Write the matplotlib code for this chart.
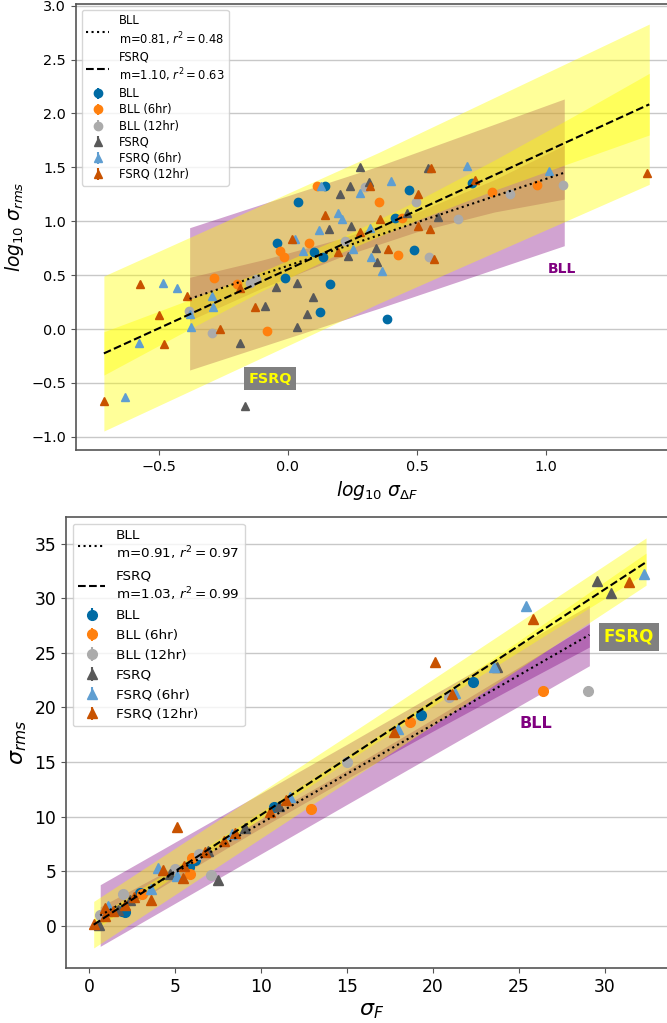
import numpy as np
import matplotlib.pyplot as plt

plt.style.use('tableau-colorblind10')

# ---------------- top panel: log10 sigma_dF vs log10 sigma_rms ----------------
top_bll_x = [0.04, 0.145, 0.468, -0.04, 0.101, 0.136, -0.01, 0.164, 0.126, 0.382, 0.416, 0.487, 0.711]
top_bll_y = [1.18, 1.33, 1.288, 0.794, 0.716, 0.67, 0.476, 0.419, 0.158, 0.096, 1.033, 0.733, 1.351]
top_bll6_x = [0.113, 0.354, 0.081, -0.032, -0.014, -0.285, -0.195, -0.08, 0.425, 0.443, 0.792, 0.963]
top_bll6_y = [1.328, 1.179, 0.798, 0.725, 0.671, 0.47, 0.422, -0.019, 0.686, 1.028, 1.274, 1.333]
top_bll12_x = [-0.381, -0.294, -0.148, -0.125, 0.222, 0.30, 0.498, 0.66, 0.545, 0.86, 1.065]
top_bll12_y = [0.17, -0.032, 0.424, 0.466, 0.82, 1.32, 1.18, 1.02, 0.671, 1.257, 1.333]
top_fsrq_x = [0.278, 0.242, 0.202, 0.315, 0.159, 0.243, 0.343, 0.344, 0.232, -0.045,
              0.036, 0.097, 0.075, -0.09, 0.036, -0.186, -0.165, 0.462, 0.541, 0.58]
top_fsrq_y = [1.50, 1.33, 1.252, 1.367, 0.926, 0.955, 0.748, 0.624, 0.677, 0.392,
              0.424, 0.30, 0.137, 0.21, 0.022, -0.133, -0.71, 1.073, 1.49, 1.042]
top_fsrq6_x = [0.129, 0.28, 0.398, 0.193, 0.21, 0.121, 0.32, 0.057, 0.029, 0.253, 0.322,
               0.363, 0.692, 1.012, -0.485, -0.43, -0.577, -0.629, -0.377, -0.376, -0.292, -0.289]
top_fsrq6_y = [1.328, 1.258, 1.375, 1.076, 1.02, 0.918, 0.934, 0.728, 0.832, 0.74, 0.665,
               0.541, 1.511, 1.469, 0.423, 0.378, -0.127, -0.628, 0.139, 0.016, 0.309, 0.201]
top_fsrq12_x = [0.015, 0.145, 0.195, 0.279, 0.32, 0.355, 0.386, 0.502, 0.505, 0.551, 0.564,
                0.556, 0.725, 1.39, -0.572, -0.497, -0.48, -0.712, -0.391, -0.262, -0.186, -0.126]
top_fsrq12_y = [0.832, 1.058, 0.714, 0.897, 1.329, 1.019, 0.742, 0.959, 1.25, 0.931, 0.648,
                1.498, 1.382, 1.45, 0.419, 0.13, -0.139, -0.667, 0.306, 0.003, 0.382, 0.2]

# fitted lines (end points) and shaded bands
top_bll_fit_x = [-0.38, 1.07]
top_bll_fit_y = [0.28, 1.45]
top_fsrq_fit_x = [-0.712, 1.399]
top_fsrq_fit_y = [-0.226, 2.084]
top_bll_pred_x = [-0.38, 0.35, 1.07]
top_bll_pred_lo = [-0.38, 0.19, 0.773]
top_bll_pred_hi = [0.94, 1.51, 2.134]
top_bll_conf_x = [-0.38, -0.1, 0.2, 0.5, 0.8, 1.07]
top_bll_conf_lo = [0.08, 0.38, 0.665, 0.903, 1.086, 1.205]
top_bll_conf_hi = [0.48, 0.64, 0.835, 1.083, 1.386, 1.705]
top_fsrq_pred_x = [-0.712, 0.35, 1.399]
top_fsrq_pred_lo = [-0.946, 0.236, 1.342]
top_fsrq_pred_hi = [0.492, 1.636, 2.829]
top_fsrq_conf_x = [-0.712, -0.4, -0.1, 0.2, 0.5, 0.8, 1.1, 1.399]
top_fsrq_conf_lo = [-0.427, -0.025, 0.354, 0.702, 1.01, 1.288, 1.546, 1.80]
top_fsrq_conf_hi = [-0.025, 0.255, 0.534, 0.842, 1.19, 1.568, 1.966, 2.372]
top_xticks = [-0.5, 0.0, 0.5, 1.0]

# ---------------- bottom panel: sigma_F vs sigma_rms ----------------
bot_bll_x = [1.9, 2.05, 2.95, 5.8, 6.15, 10.75, 19.3, 22.3]
bot_bll_y = [1.35, 1.25, 3.0, 5.4, 6.05, 10.85, 19.3, 22.35]
bot_bll6_x = [3.05, 5.86, 5.96, 12.9, 18.65, 26.4]
bot_bll6_y = [2.95, 4.78, 6.21, 10.7, 18.7, 21.5]
bot_bll12_x = [0.63, 1.95, 4.99, 6.35, 7.05, 15.0, 20.95, 29.0]
bot_bll12_y = [1.03, 2.95, 5.21, 6.61, 4.63, 15.0, 21.0, 21.55]
bot_fsrq_x = [0.53, 1.69, 2.37, 4.7, 6.93, 7.49, 9.03, 11.03, 23.7, 29.55, 30.35]
bot_fsrq_y = [0.12, 1.49, 2.4, 4.78, 6.86, 4.17, 8.96, 11.0, 23.75, 31.6, 30.5]
bot_fsrq6_x = [1.11, 3.6, 4.02, 5.09, 8.28, 11.7, 17.95, 21.3, 23.55, 25.4, 32.3]
bot_fsrq6_y = [1.79, 3.38, 5.3, 4.54, 8.4, 11.8, 18.05, 21.35, 23.75, 29.3, 32.25]
bot_fsrq12_x = [0.24, 0.88, 0.92, 1.37, 2.08, 2.62, 3.6, 4.31, 5.09, 5.44, 5.53, 6.74,
                7.82, 8.5, 10.5, 11.45, 17.7, 20.1, 21.1, 25.8, 31.4]
bot_fsrq12_y = [0.21, 1.64, 0.88, 1.34, 1.95, 2.65, 2.35, 5.15, 9.1, 4.39, 5.51, 6.73,
                7.82, 8.5, 10.42, 11.55, 17.8, 24.12, 21.2, 28.1, 31.5]

bot_bll_fit_x = [0.63, 29.1]
bot_bll_fit_y = [0.96, 26.65]
bot_fsrq_fit_x = [0.25, 32.4]
bot_fsrq_fit_y = [0.12, 33.3]
bot_bll_pred_x = [0.63, 14.9, 29.1]
bot_bll_pred_lo = [-1.86, 11.05, 23.82]
bot_bll_pred_hi = [3.78, 16.55, 29.36]
bot_bll_conf_x = [0.63, 5, 10, 15, 20, 25, 29.1]
bot_bll_conf_lo = [0.16, 4.34, 8.99, 13.49, 17.84, 22.09, 25.53]
bot_bll_conf_hi = [1.76, 5.44, 9.79, 14.29, 18.94, 23.69, 27.63]
bot_fsrq_pred_x = [0.25, 16.3, 32.4]
bot_fsrq_pred_lo = [-2.01, 14.55, 31.19]
bot_fsrq_pred_hi = [2.25, 18.75, 35.52]
bot_fsrq_conf_x = [0.25, 5, 10, 16, 22, 27, 32.4]
bot_fsrq_conf_lo = [-0.43, 4.61, 9.86, 16.09, 22.17, 27.07, 32.33]
bot_fsrq_conf_hi = [0.67, 5.41, 10.46, 16.59, 22.87, 28.27, 34.13]
bot_xticks = [0, 5, 10, 15, 20, 25, 30]

names = ['BLL', 'BLL (6hr)', 'BLL (12hr)', 'FSRQ', 'FSRQ (6hr)', 'FSRQ (12hr)']
markers = ['o', 'o', 'o', '^', '^', '^']


def panel(ax, pts, fits, labels, bands, ms, fs_leg, spacing):
    '''Draw bands, fit lines and the six groups of points.'''
    (bpx, bplo, bphi), (bcx, bclo, bchi), (fpx, fplo, fphi), (fcx, fclo, fchi) = bands
    ax.fill_between(bpx, bplo, bphi, color='purple', alpha=0.36, lw=0)
    ax.fill_between(bcx, bclo, bchi, color='purple', alpha=0.36, lw=0)
    ax.fill_between(fpx, fplo, fphi, color='yellow', alpha=0.4, lw=0)
    ax.fill_between(fcx, fclo, fchi, color='yellow', alpha=0.4, lw=0)

    ax.plot(fits[0][0], fits[0][1], ':', c='k', lw=1.5, zorder=4, label=labels[0])
    ax.plot(fits[1][0], fits[1][1], '--', c='k', lw=1.5, zorder=4, label=labels[1])

    for (x, y), name, mk in zip(pts, names, markers):
        ax.errorbar(x, y, yerr=np.zeros(len(y)), fmt=mk, ms=ms, label=name, zorder=3)

    ax.yaxis.grid(True, color='#c8c8c8', lw=1.0)
    ax.set_axisbelow(True)
    for s in ax.spines.values():
        s.set_color('#555555')
        s.set_linewidth(1.2)
    ax.spines['right'].set_visible(False)
    ax.tick_params(color='#555555')
    ax.legend(loc='upper left', fontsize=fs_leg, labelspacing=spacing)


fig = plt.figure(figsize=(6.67, 10.23), dpi=100)

# top
ax1 = fig.add_axes([0.1139, 0.5601, 0.9025, 0.436])
panel(ax1,
      [(top_bll_x, top_bll_y), (top_bll6_x, top_bll6_y), (top_bll12_x, top_bll12_y),
       (top_fsrq_x, top_fsrq_y), (top_fsrq6_x, top_fsrq6_y), (top_fsrq12_x, top_fsrq12_y)],
      [(top_bll_fit_x, top_bll_fit_y), (top_fsrq_fit_x, top_fsrq_fit_y)],
      ['BLL\nm=0.81, $r^2=0.48$', 'FSRQ\nm=1.10, $r^2=0.63$'],
      [(top_bll_pred_x, top_bll_pred_lo, top_bll_pred_hi),
       (top_bll_conf_x, top_bll_conf_lo, top_bll_conf_hi),
       (top_fsrq_pred_x, top_fsrq_pred_lo, top_fsrq_pred_hi),
       (top_fsrq_conf_x, top_fsrq_conf_lo, top_fsrq_conf_hi)],
      ms=6, fs_leg=8.3, spacing=0.27)
ax1.set_xlim(-0.82, 1.51)
ax1.set_ylim(-1.122, 3.015)
ax1.set_xticks(top_xticks)
ax1.tick_params(labelsize=10.4)
ax1.set_xlabel(r'$log_{10}\ \sigma_{\Delta F}$', fontsize=13.5)
ax1.set_ylabel(r'$log_{10}\ \sigma_{rms}$', fontsize=13.5)
ax1.text(1.06, 0.553, 'BLL', color='purple', fontsize=10, fontweight='bold',
         ha='center', va='center')
ax1.text(-0.068, -0.461, 'FSRQ', color='yellow', fontsize=10.4, fontweight='bold',
         ha='center', va='center',
         bbox=dict(boxstyle='square,pad=0.3', fc='#808080', ec='none'))

# bottom
ax2 = fig.add_axes([0.099, 0.0538, 0.916, 0.4409])
panel(ax2,
      [(bot_bll_x, bot_bll_y), (bot_bll6_x, bot_bll6_y), (bot_bll12_x, bot_bll12_y),
       (bot_fsrq_x, bot_fsrq_y), (bot_fsrq6_x, bot_fsrq6_y), (bot_fsrq12_x, bot_fsrq12_y)],
      [(bot_bll_fit_x, bot_bll_fit_y), (bot_fsrq_fit_x, bot_fsrq_fit_y)],
      ['BLL\nm=0.91, $r^2=0.97$', 'FSRQ\nm=1.03, $r^2=0.99$'],
      [(bot_bll_pred_x, bot_bll_pred_lo, bot_bll_pred_hi),
       (bot_bll_conf_x, bot_bll_conf_lo, bot_bll_conf_hi),
       (bot_fsrq_pred_x, bot_fsrq_pred_lo, bot_fsrq_pred_hi),
       (bot_fsrq_conf_x, bot_fsrq_conf_lo, bot_fsrq_conf_hi)],
      ms=7, fs_leg=9.7, spacing=0.5)
ax2.set_xlim(-1.36, 34.2)
ax2.set_ylim(-3.84, 37.44)
ax2.set_xticks(bot_xticks)
ax2.tick_params(labelsize=12.3)
ax2.set_xlabel(r'$\sigma_F$', fontsize=16)
ax2.set_ylabel(r'$\sigma_{rms}$', fontsize=16)
ax2.text(25.97, 18.49, 'BLL', color='purple', fontsize=11.5, fontweight='bold',
         ha='center', va='center')
ax2.text(31.4, 26.47, 'FSRQ', color='yellow', fontsize=12, fontweight='bold',
         ha='center', va='center',
         bbox=dict(boxstyle='square,pad=0.3', fc='#808080', ec='none'))

fig.savefig('out.png', dpi=100)
